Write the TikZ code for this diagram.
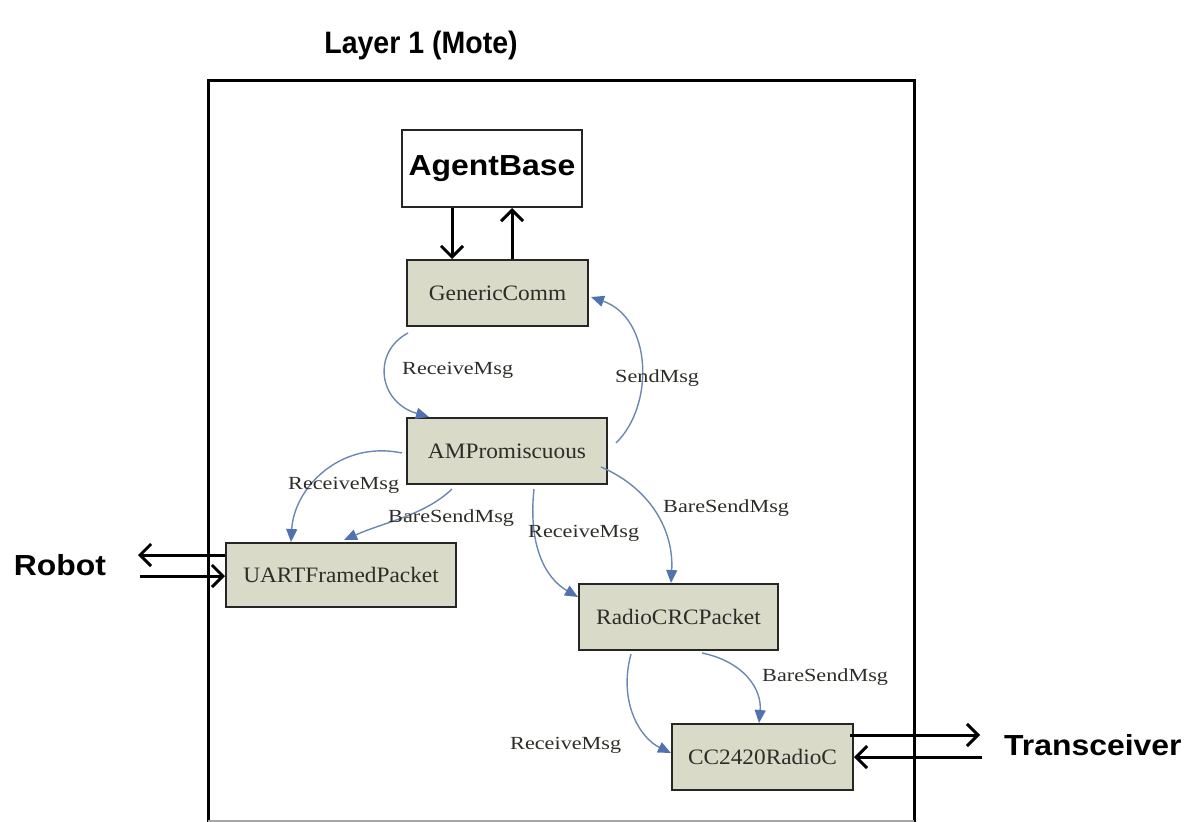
\documentclass[tikz,border=0pt]{standalone}
\usepackage{fontspec}
\usetikzlibrary{arrows.meta,calc}
\newfontfamily\headfont[FakeStretch=1.1]{Liberation Sans}
\newfontfamily\titlefont[FakeStretch=0.92]{Liberation Sans}
\newfontfamily\boxfont[FakeStretch=1.06]{Liberation Serif}
\newfontfamily\lblfont[FakeStretch=1.2]{Liberation Serif}
\definecolor{compfill}{RGB}{217,218,200}
\definecolor{wireblue}{RGB}{108,135,180}
\definecolor{headblue}{RGB}{80,115,175}
\definecolor{inktext}{RGB}{45,45,40}
\tikzset{
  comp/.style={draw=black!85, line width=2pt, fill=compfill, inner sep=0pt,
    font=\boxfont\fontsize{22}{24}\selectfont, text=inktext},
  wire/.style={draw=wireblue, line width=1.4pt,
    -{Triangle[length=13pt,width=11pt,color=headblue,fill=headblue]}},
  wirelabel/.style={anchor=west, inner sep=0pt, text=inktext,
    font=\lblfont\fontsize{18.5}{20}\selectfont},
  bigarrow/.style={draw=black, line width=3pt,
    -{Straight Barb[length=11pt,width=22pt,line width=3pt]}},
  bigtext/.style={inner sep=0pt, font=\headfont\bfseries\fontsize{29}{32}\selectfont}
}
\begin{document}
\begin{tikzpicture}[x=1pt,y=-1pt]
\useasboundingbox (0,0) rectangle (1195,822);

% title and mote frame
\node[inner sep=0pt, font=\titlefont\bfseries\fontsize{31}{34}\selectfont] (title) at (421,45) {Layer 1 (Mote)};
\draw[line width=3pt] (208,823) -- (208,80) -- (914,80) -- (914,823);
\draw[black!35, line width=1.5pt] (208,821) -- (914,821);

% components
\node[draw=black!85, line width=2pt, fill=white, minimum width=180pt, minimum height=77pt,
      bigtext, inner sep=0pt] (ab) at (492,168.5) {AgentBase};
\node[comp, minimum width=181pt, minimum height=66pt] (gc)   at (497.5,293) {GenericComm};
\node[comp, minimum width=200pt, minimum height=66pt] (amp)  at (507,451)   {AMPromiscuous};
\node[comp, minimum width=230pt, minimum height=64pt] (uart) at (341,575)   {UARTFramedPacket};
\node[comp, minimum width=199pt, minimum height=66pt] (rc)   at (678.5,617) {RadioCRCPacket};
\node[comp, minimum width=181pt, minimum height=66pt] (cc)   at (762.5,757) {CC2420RadioC};

% external endpoints
\node[bigtext] (robot) at (60,565) {Robot};
\node[bigtext, anchor=west] (trx) at (1004,745) {Transceiver};
\coordinate (robotout) at (138,555);
\coordinate (robotin)  at (140,576);
\coordinate (trxout)   at (980,735);
\coordinate (trxin)    at (982,757);

% AgentBase <-> GenericComm
\draw[bigarrow] ($(ab.south west)+(51,0)$) -- ($(gc.north west)+(46,0)$);
\draw[bigarrow] ($(gc.north west)+(106,0)$) -- ($(ab.south west)+(111,0)$);

% serial link to the robot
\draw[bigarrow] ($(uart.west)+(0,-20)$) -- (robotout);
\draw[bigarrow] (robotin) -- ($(uart.west)+(0,1)$);

% radio link
\draw[bigarrow] ($(cc.east)+(-4,-22)$) -- (trxout);
\draw[bigarrow] (trxin) -- (cc.east);

% interface wiring
\draw[wire] ($(gc.south west)+(2,6)$) .. controls (372,352) and (378,402) .. ($(amp.north west)+(23,0)$);
\node[wirelabel] (l1) at (402,370) {ReceiveMsg};

\draw[wire] ($(amp.east)+(8,-8)$) .. controls (655,405) and (652,318) .. ($(gc.east)+(2,4)$);
\node[wirelabel] (l2) at (615,378) {SendMsg};

\draw[wire] ($(amp.west)+(-4,2)$) .. controls (340,440) and (294,488) .. ($(uart.north west)+(66,0)$);
\node[wirelabel] (l3) at (288,485) {ReceiveMsg};

\draw[wire] ($(amp.south west)+(46,4)$) .. controls (425,515) and (385,522) .. ($(uart.north west)+(119,-2)$);
\node[wirelabel] (l4) at (388,518) {BareSendMsg};

\draw[wire] ($(amp.south west)+(128,4)$) .. controls (528,545) and (545,578) .. ($(rc.west)+(0,-20)$);
\node[wirelabel] (l5) at (528,533) {ReceiveMsg};

\draw[wire] ($(amp.east)+(-7,16)$) .. controls (650,488) and (674,530) .. ($(rc.north west)+(93,0)$);
\node[wirelabel] (l6) at (663,508) {BareSendMsg};

\draw[wire] ($(rc.south west)+(53,3)$) .. controls (618,702) and (640,738) .. ($(cc.west)+(0,-4)$);
\node[wirelabel] (l7) at (510,745) {ReceiveMsg};

\draw[wire] ($(rc.south west)+(124,2)$) .. controls (745,662) and (762,690) .. ($(cc.north west)+(88,0)$);
\node[wirelabel] (l8) at (762,677) {BareSendMsg};
\end{tikzpicture}
\end{document}
